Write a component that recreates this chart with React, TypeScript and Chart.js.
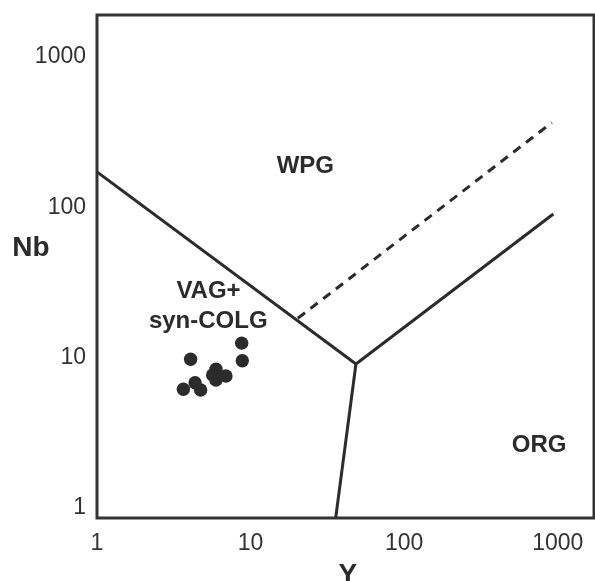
import React, { useEffect, useRef } from "react";
import { Chart, registerables } from "chart.js";

Chart.register(...registerables);

// Sample points (Y ppm, Nb ppm)
const sampleY = [4.07, 8.75, 8.83, 3.65, 4.35, 4.73, 5.95, 5.66, 5.95, 6.91];
const sampleNb = [9.76, 12.5, 9.55, 6.16, 6.82, 6.10, 8.37, 7.67, 7.11, 7.56];

// Field boundaries (Y, Nb)
const boundaryWpgVagX = [1, 48.5];
const boundaryWpgVagY = [172, 9.08];
const boundaryVagOrgX = [48.5, 35.8];
const boundaryVagOrgY = [9.08, 0.858];
const boundaryWpgOrgX = [48.5, 935];
const boundaryWpgOrgY = [9.08, 90.4];
const dashedX = [20.3, 913];
const dashedY = [18.3, 366];

const tickValues = [1, 10, 100, 1000];
const xRange = [1, 1720];
const yRange = [0.858, 1905];

// Field labels: text, Y, Nb
const fieldLabels = ["WPG", "VAG+", "syn-COLG", "ORG"];
const fieldLabelX = [22.7, 5.32, 5.3, 755];
const fieldLabelY = [188, 27.6, 17.5, 2.62];

const INK = "#2b2b2b";
const FONT = "'Liberation Sans', Arial, Helvetica, sans-serif";

const toPts = (xs: number[], ys: number[]) => xs.map((x, i) => ({ x, y: ys[i] }));

const noPad = (s: any) => {
  s.paddingTop = 0;
  s.paddingBottom = 0;
  s.paddingLeft = 0;
  s.paddingRight = 0;
};

export default function App() {
  const ref = useRef<HTMLCanvasElement | null>(null);

  useEffect(() => {
    const canvas = ref.current;
    if (!canvas) return;

    const overlay = {
      id: "overlay",
      afterDraw(chart: any) {
        const { ctx, chartArea, scales } = chart;
        const xs = scales.x;
        const ys = scales.y;
        ctx.save();
        // frame
        ctx.strokeStyle = "#333";
        ctx.lineWidth = 3;
        ctx.strokeRect(
          chartArea.left,
          chartArea.top,
          chartArea.right - chartArea.left,
          chartArea.bottom - chartArea.top
        );
        // field labels
        ctx.fillStyle = INK;
        ctx.font = `bold 24px ${FONT}`;
        ctx.textAlign = "center";
        ctx.textBaseline = "middle";
        fieldLabels.forEach((t, i) => {
          ctx.fillText(t, xs.getPixelForValue(fieldLabelX[i]), ys.getPixelForValue(fieldLabelY[i]));
        });
        // axis titles
        ctx.font = `bold 28px ${FONT}`;
        ctx.textBaseline = "alphabetic";
        ctx.fillText("Nb", 31, ys.getPixelForValue(55) + 10);
        ctx.fillText("Y", xs.getPixelForValue(43), 583);
        ctx.restore();
      },
    };

    const lineDs = (xs: number[], ys: number[], dash: number[] = []) => ({
      type: "line" as const,
      data: toPts(xs, ys),
      borderColor: INK,
      borderWidth: 3,
      borderDash: dash,
      pointRadius: 0,
      fill: false,
      tension: 0,
    });

    const chart = new Chart(canvas, {
      type: "scatter",
      data: {
        datasets: [
          lineDs(boundaryWpgVagX, boundaryWpgVagY),
          lineDs(boundaryVagOrgX, boundaryVagOrgY),
          lineDs(boundaryWpgOrgX, boundaryWpgOrgY),
          lineDs(dashedX, dashedY, [9, 7]),
          {
            type: "scatter" as const,
            data: toPts(sampleY, sampleNb),
            backgroundColor: INK,
            borderWidth: 0,
            pointRadius: 6.7,
          },
        ] as any,
      },
      options: {
        responsive: false,
        animation: false,
        devicePixelRatio: 1,
        layout: { autoPadding: false, padding: { left: 0, top: 15, right: 1, bottom: 0 } },
        plugins: { legend: { display: false }, tooltip: { enabled: false } },
        scales: {
          x: {
            type: "logarithmic",
            min: xRange[0],
            max: xRange[1],
            grid: { display: false, drawTicks: false },
            border: { display: false },
            afterBuildTicks: (s: any) => {
              s.ticks = tickValues.map((v) => ({ value: v }));
            },
            afterFit: (s: any) => {
              s.height = 63;
              noPad(s);
            },
            ticks: {
              autoSkip: false,
              maxRotation: 0,
              padding: 12,
              color: "#333",
              font: { family: FONT, size: 23 },
              callback: (v: any) => String(v),
            },
          },
          y: {
            type: "logarithmic",
            min: yRange[0],
            max: yRange[1],
            grid: { display: false, drawTicks: false },
            border: { display: false },
            afterBuildTicks: (s: any) => {
              s.ticks = tickValues.map((v) => ({ value: v }));
            },
            afterFit: (s: any) => {
              s.width = 97;
              noPad(s);
            },
            ticks: {
              autoSkip: false,
              padding: 11,
              color: "#333",
              font: { family: FONT, size: 23 },
              callback: (v: any) => String(v),
            },
          },
        },
      } as any,
      plugins: [overlay],
    });

    return () => chart.destroy();
  }, []);

  return (
    <div style={{ position: "fixed", left: 0, top: 0, width: 595, height: 581, background: "#fff" }}>
      <canvas ref={ref} width={595} height={581} style={{ display: "block" }} />
    </div>
  );
}
